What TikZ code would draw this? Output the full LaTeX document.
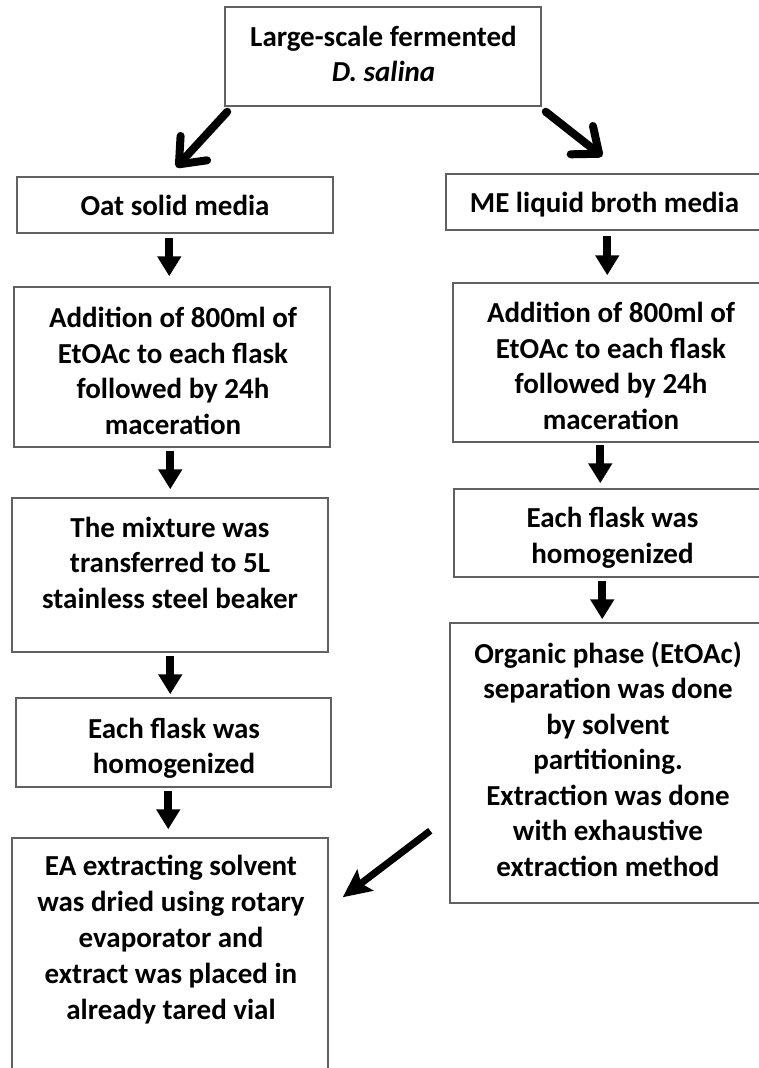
\documentclass[tikz,border=0pt]{standalone}
\usepackage{fontspec}
\setmainfont{Carlito}
\usetikzlibrary{arrows.meta,calc}

\tikzset{
  stepbox/.style={draw=black!62, line width=1.5pt, rectangle, inner sep=0pt},
  steptext/.style={inner sep=0pt, align=center, text=black,
    font=\fontsize{29}{35.5}\selectfont\bfseries},
  downarrow/.style={line width=8pt, -{Triangle[length=20pt,width=23pt]}},
  splitarrow/.style={line width=8pt, line cap=round, -{Straight Barb[length=22pt,width=36pt,round]}},
  backarrow/.style={line width=7pt, -{Stealth[length=28pt,width=26pt,inset=5pt]}}
}

\begin{document}
\begin{tikzpicture}[x=1pt, y=-1pt]
  \useasboundingbox (0,0) rectangle (758,1068);

  % ---- frames ----
  \node[stepbox, minimum width=316pt, minimum height=99pt]  (src)  at (383,56.5)  {};
  \node[stepbox, minimum width=316pt, minimum height=56pt]  (oat)  at (175,205)   {};
  \node[stepbox, minimum width=316pt, minimum height=160pt] (addL) at (172,367)   {};
  \node[stepbox, minimum width=316pt, minimum height=154pt] (mixL) at (170,575)   {};
  \node[stepbox, minimum width=315pt, minimum height=89pt]  (homL) at (173.5,742.5) {};
  \node[stepbox, minimum width=316pt, minimum height=262pt] (ea)   at (170,969)   {};
  \node[stepbox, minimum width=354pt, minimum height=56pt]  (me)   at (623,202)   {};
  \node[stepbox, minimum width=347pt, minimum height=159pt] (addR) at (626.5,362.5) {};
  \node[stepbox, minimum width=346pt, minimum height=88pt]  (homR) at (627,533)   {};
  \node[stepbox, minimum width=350pt, minimum height=280pt] (org)  at (625,763)   {};

  % ---- texts ----
  \node[steptext] (srcT)  at (383.5,54)  {Large-scale fermented\\\textit{D. salina}};
  \node[steptext] (oatT)  at (175,205)   {Oat solid media};
  \node[steptext] (addLT) at (173,371)   {Addition of 800ml of\\EtOAc to each flask\\followed by 24h\\maceration};
  \node[steptext] (mixLT) at (170,562.5) {The mixture was\\transferred to 5L\\stainless steel beaker};
  \node[steptext] (homLT) at (174,748.5) {Each flask was\\homogenized};
  \node[steptext, font=\fontsize{29}{36}\selectfont\bfseries] (eaT) at (171,940)
    {EA extracting solvent\\was dried using rotary\\evaporator and\\extract was placed in\\already tared vial};
  \node[steptext] (meT)   at (604.5,205) {ME liquid broth media};
  \node[steptext] (addRT) at (611,366)   {Addition of 800ml of\\EtOAc to each flask\\followed by 24h\\maceration};
  \node[steptext] (homRT) at (612.5,538) {Each flask was\\homogenized};
  \node[steptext] (orgT)  at (608,759)
    {Organic phase (EtOAc)\\separation was done\\by solvent\\partitioning.\\Extraction was done\\with exhaustive\\extraction method};

  % ---- split from the source ----
  \draw[splitarrow] ($(src.south west)+(3,5)$) -- ($(oat.north west)+(160,-9)$);
  \draw[splitarrow] ($(src.south east)+(4,5)$) -- ($(me.north west)+(157,-17)$);

  % ---- left chain ----
  \draw[downarrow] ($(oat.south west)+(153,4)$)  -- ($(addL.north west)+(156,-10)$);
  \draw[downarrow] ($(addL.south west)+(157,3)$) -- ($(mixL.north west)+(159,-8)$);
  \draw[downarrow] ($(mixL.south west)+(159,3)$) -- ($(homL.north west)+(155,-3)$);
  \draw[downarrow] ($(homL.south west)+(153,3)$) -- ($(ea.north west)+(157,-8)$);

  % ---- right chain ----
  \draw[downarrow] ($(me.south west)+(162,5)$)   -- ($(addR.north west)+(155,-7)$);
  \draw[downarrow] ($(addR.south west)+(148,2)$) -- ($(homR.north west)+(147,-5)$);
  \draw[downarrow] ($(homR.south west)+(149,3)$) -- ($(org.north west)+(153,-3)$);

  % ---- back to the drying step ----
  \draw[backarrow] ($(org.south west)+(-19,-73)$) -- ($(ea.north east)+(14,60)$);
\end{tikzpicture}
\end{document}
